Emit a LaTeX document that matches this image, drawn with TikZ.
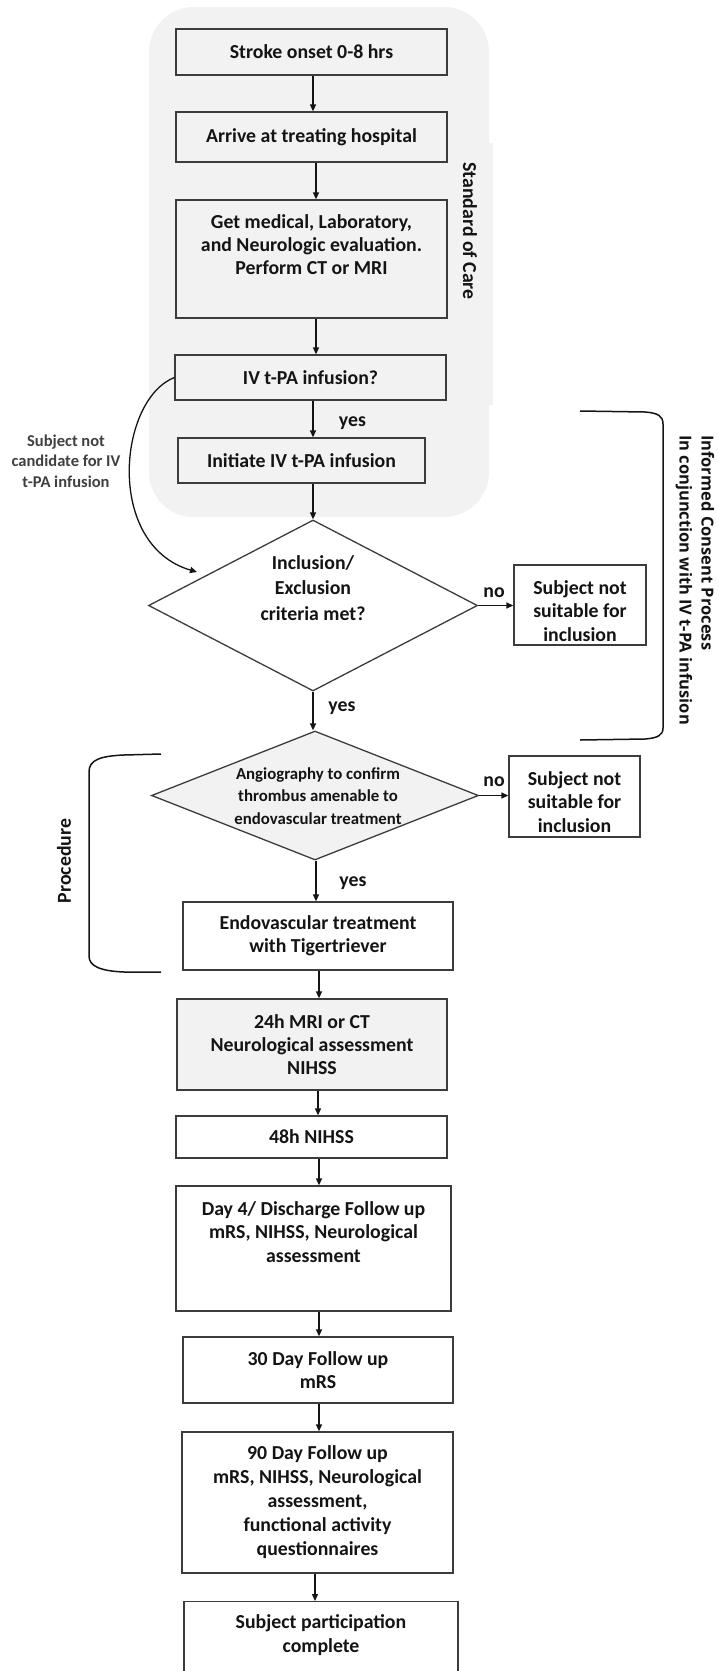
\documentclass[tikz,border=0pt]{standalone}
\usepackage{fontspec}
\setmainfont{Carlito}
\newfontfamily\osans{Open Sans}
\usetikzlibrary{arrows.meta,shapes.geometric,calc}
\definecolor{bgc}{RGB}{242,242,242}
\definecolor{edge}{RGB}{60,60,60}
\definecolor{lbl}{RGB}{64,64,64}
\definecolor{ink}{RGB}{20,20,20}
\begin{document}
\begin{tikzpicture}[x=1pt,y=-1pt,
  font=\fontsize{19.8}{23}\selectfont\bfseries,
  every node/.style={text=ink},
  box/.style={draw=edge, line width=1.3pt, rectangle, inner sep=0pt, align=center},
  gbox/.style={box, fill=bgc},
  wbox/.style={box, fill=white},
  dia/.style={draw=edge, line width=1.3pt, diamond, inner sep=0pt},
  txt/.style={align=center, inner sep=0pt},
  arr/.style={-{Triangle[length=7pt,width=6pt]}, line width=1.3pt, draw=ink},
  brk/.style={line width=1.5pt, draw=ink},
  lab/.style={inner sep=0pt},
]
\useasboundingbox (0,0) rectangle (719,1671);
\clip (0,0) rectangle (719,1671);
\fill[white] (0,0) rectangle (719,1671);

% standard of care background
\fill[bgc, rounded corners=45pt] (149,7) rectangle (489,517);
\fill[bgc] (487,143) rectangle (493,405);

% boxes
\node[gbox, minimum width=271pt, minimum height=46pt] (stroke) at (311.5,52) {Stroke onset 0-8 hrs};
\node[gbox, minimum width=271pt, minimum height=50pt] (arrive) at (311.5,137) {Arrive at treating hospital};
\node[gbox, minimum width=271pt, minimum height=118pt] (getmed) at (311.5,259) {};
\node[txt] (getmedT) at (311.5,245) {Get medical, Laboratory,\\and Neurologic evaluation.\\Perform CT or MRI};
\node[gbox, minimum width=271pt, minimum height=45pt] (ivq) at (310.5,377.5) {IV t-PA infusion?};
\node[gbox, minimum width=247pt, minimum height=45pt] (init) at (301.5,460.5) {Initiate IV t-PA infusion};

\node[dia, fill=white, minimum width=329pt, minimum height=171pt] (d1) at (313,605.5) {};
\node[txt, font=\fontsize{19.8}{25.5}\selectfont\bfseries] (d1T) at (313,588) {Inclusion/\\Exclusion\\criteria met?};
\node[wbox, minimum width=132pt, minimum height=80pt] (ns1) at (580,605) {};
\node[txt, font=\fontsize{19.8}{23.5}\selectfont\bfseries] (ns1T) at (580,611) {Subject not\\suitable for\\inclusion};

\node[dia, fill=bgc, minimum width=327pt, minimum height=129pt] (d2) at (315,795.5) {};
\node[txt, font=\fontsize{16.8}{22.5}\selectfont\bfseries] (d2T) at (318,796) {Angiography to confirm\\thrombus amenable to\\endovascular treatment};
\node[wbox, minimum width=131pt, minimum height=81pt] (ns2) at (574.5,796.5) {};
\node[txt, font=\fontsize{19.8}{23.5}\selectfont\bfseries] (ns2T) at (574.5,802) {Subject not\\suitable for\\inclusion};

\node[wbox, minimum width=270pt, minimum height=68pt] (endo) at (318,936) {Endovascular treatment\\with Tigertriever};
\node[gbox, minimum width=270pt, minimum height=91pt] (h24) at (312,1044.5) {24h MRI or CT\\Neurological assessment\\NIHSS};
\node[wbox, minimum width=271pt, minimum height=42pt] (h48) at (311.5,1137) {48h NIHSS};
\node[wbox, minimum width=275pt, minimum height=125pt] (day4) at (313.5,1248.5) {};
\node[txt, font=\fontsize{19.8}{23.5}\selectfont\bfseries] (day4T) at (313.5,1232) {Day 4/ Discharge Follow up\\mRS, NIHSS, Neurological\\assessment};
\node[wbox, minimum width=270pt, minimum height=66pt] (d30) at (318,1370) {30 Day Follow up\\mRS};
\node[wbox, minimum width=271pt, minimum height=141pt, font=\fontsize{19.8}{24}\selectfont\bfseries] (d90) at (317.5,1502.5) {90 Day Follow up\\mRS, NIHSS, Neurological\\assessment,\\functional activity\\questionnaires};
\node[wbox, minimum width=274pt, minimum height=80pt, anchor=north] (subj) at (321,1601) {};
\node[txt, font=\fontsize{19.8}{24}\selectfont\bfseries] (subjT) at (321,1635) {Subject participation\\complete};

% side labels
\node[rotate=-90, lab] (soc) at (470,231) {Standard of Care};
\node[rotate=90, lab] (proc) at (64,861) {Procedure};
\node[rotate=-90, lab, align=left, font=\osans\bfseries\fontsize{16.5}{22}\selectfont] (icp) at (695,580) {Informed Consent Process\\In conjunction with IV t-PA infusion};
\node[txt, text=lbl, font=\fontsize{16.5}{20.5}\selectfont\bfseries] (cand) at (66,461) {Subject not\\candidate for IV\\t-PA infusion};

% yes / no labels
\node[lab] (yes1) at (352.5,423) {yes};
\node[lab] (yes2) at (342,708) {yes};
\node[lab] (yes3) at (353,883) {yes};
\node[lab] (no1) at (494,593) {no};
\node[lab] (no2) at (494,782) {no};

% connectors
\draw[arr] ([xshift=1.5pt]stroke.south) -- ([xshift=1.5pt]stroke.south |- arrive.north);
\draw[arr] ([xshift=4.5pt]arrive.south) -- ([xshift=4.5pt]arrive.south |- getmed.north);
\draw[arr] ([xshift=4.5pt]getmed.south) -- ([xshift=4.5pt]getmed.south |- ivq.north);
\draw[arr] ([xshift=2.5pt]ivq.south) -- ([xshift=2.5pt]ivq.south |- init.north);
\draw[arr] (init.south -| d1.north) -- (d1.north);
\draw[arr] (d1.east) -- (d1.east -| ns1.west);
\draw[arr] (d1.south) -- (d1.south |- d2.north);
\draw[arr] (d2.east) -- (d2.east -| ns2.west);
\draw[arr] ([xshift=1pt]d2.south) -- ([xshift=1pt]d2.south |- endo.north);
\draw[arr] ([xshift=1pt]endo.south) -- ([xshift=1pt]endo.south |- h24.north);
\draw[arr] ([xshift=6pt]h24.south) -- ([xshift=6pt]h24.south |- h48.north);
\draw[arr] ([xshift=7.5pt]h48.south) -- ([xshift=7.5pt]h48.south |- day4.north);
\draw[arr] ([xshift=5.5pt]day4.south) -- ([xshift=5.5pt]day4.south |- d30.north);
\draw[arr] ([xshift=1pt]d30.south) -- ([xshift=1pt]d30.south |- d90.north);
\draw[arr] ([xshift=-2.5pt]d90.south) -- ([xshift=-2.5pt]d90.south |- subj.north);
\coordinate (cin) at (197,572);
\draw[arr] (ivq.west) .. controls (118,400) and (105,545) .. (cin);

% brackets
\draw[brk] (580,411) -- (645,412) .. controls (658,413) and (663,416) .. (663,424) -- (663,728) .. controls (663,735) and (658,738) .. (645,739) -- (580,740);
\draw[brk] (161,754) -- (124,755) .. controls (100,756) and (89,760) .. (89,772) -- (89,956) .. controls (89,966) and (100,971) .. (124,972) -- (161,972);
\end{tikzpicture}
\end{document}
